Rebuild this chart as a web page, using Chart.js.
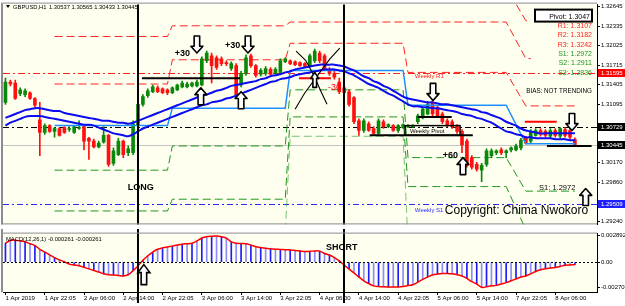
<!DOCTYPE html>
<html>
<head>
<meta charset="utf-8">
<script src="https://cdn.jsdelivr.net/npm/chart.js@4.4.1/dist/chart.umd.min.js"></script>
<style>
  html, body { margin: 0; padding: 0; background: #fff; }
  #wrap { position: relative; width: 625px; height: 306px; overflow: hidden; }
  #main { position: absolute; left: 0; top: 0; }
  #macd { position: absolute; left: 0; top: 229px; }
</style>
</head>
<body>
<div id="wrap">
  <canvas id="main" width="625" height="229"></canvas>
  <canvas id="macd" width="625" height="77"></canvas>
</div>
<script>
// ---- data ----
const timeTicks = ['1 Apr 2019', '1 Apr 22:05', '2 Apr 06:00', '2 Apr 14:00', '2 Apr 22:05', '3 Apr 06:00',
  '3 Apr 14:00', '3 Apr 22:05', '4 Apr 06:00', '4 Apr 14:00', '4 Apr 22:05', '5 Apr 06:00', '5 Apr 14:00',
  '7 Apr 22:05', '8 Apr 06:00'];
const barsPerTick = 8;
const slots = 121; // bars + empty chart shift on the right

const priceTicks = [1.32645, 1.32335, 1.32025, 1.31715, 1.31405, 1.31095, 1.30170, 1.29860, 1.29240];
const priceMin = 1.29193, priceMax = 1.32675;
const macdTicks = [0.002892, 0, -0.002702];
const macdMin = -0.003214, macdMax = 0.003092;

const opens = [
  1.31126, 1.31448, 1.31433, 1.31264, 1.31249, 1.31279, 1.31187, 1.30850, 1.30650, 1.30758,
  1.30666, 1.30712, 1.30727, 1.30696, 1.30650, 1.30712, 1.30742, 1.30558, 1.30512, 1.30420,
  1.30497, 1.30604, 1.30159, 1.30297, 1.30512, 1.30328, 1.30328, 1.30758, 1.31095, 1.31233,
  1.31295, 1.31356, 1.31341, 1.31325, 1.31279, 1.31325, 1.31371, 1.31371, 1.31387, 1.31387,
  1.31402, 1.31786, 1.31862, 1.31832, 1.31816, 1.31755, 1.31663, 1.31709, 1.31402, 1.31586,
  1.31862, 1.31709, 1.31571, 1.31586, 1.31648, 1.31586, 1.31601, 1.31770, 1.31786, 1.31770,
  1.31755, 1.31740, 1.31709, 1.31786, 1.31908, 1.31862, 1.31648, 1.31586, 1.31448, 1.31356,
  1.31295, 1.31203, 1.30834, 1.30681, 1.30788, 1.30712, 1.30635, 1.30819, 1.30742, 1.30758,
  1.30681, 1.30727, 1.30742, 1.30742, 1.30819, 1.30896, 1.30942, 1.31126, 1.31049, 1.30942,
  1.30834, 1.30819, 1.30742, 1.30666, 1.30512, 1.30251, 1.30144, 1.30052, 1.30144, 1.30282,
  1.30328, 1.30374, 1.30328, 1.30374, 1.30374, 1.30405, 1.30558, 1.30512, 1.30604, 1.30681,
  1.30666, 1.30589, 1.30681, 1.30589, 1.30696, 1.30681, 1.30537
];
const highs = [
  1.31509, 1.31479, 1.31479, 1.31356, 1.31341, 1.31295, 1.31203, 1.31126, 1.30788, 1.30773,
  1.30727, 1.30727, 1.30742, 1.30742, 1.30758, 1.30834, 1.30758, 1.30573, 1.30543, 1.30512,
  1.30742, 1.30620, 1.30405, 1.30558, 1.30527, 1.30435, 1.30834, 1.31295, 1.31249, 1.31341,
  1.31402, 1.31387, 1.31356, 1.31341, 1.31371, 1.31417, 1.31463, 1.31448, 1.31448, 1.31479,
  1.31847, 1.31939, 1.31908, 1.31862, 1.31847, 1.31786, 1.31770, 1.31740, 1.31617, 1.31878,
  1.31893, 1.31724, 1.31663, 1.31694, 1.31678, 1.31678, 1.31816, 1.31832, 1.31801, 1.31786,
  1.31770, 1.31755, 1.31893, 1.31970, 1.31939, 1.31893, 1.31678, 1.31617, 1.31509, 1.31387,
  1.31325, 1.31218, 1.30865, 1.30865, 1.30819, 1.30742, 1.30865, 1.30850, 1.30788, 1.30773,
  1.30773, 1.30788, 1.30773, 1.30773, 1.30942, 1.31049, 1.31141, 1.31172, 1.31080, 1.30972,
  1.30865, 1.30850, 1.30773, 1.30696, 1.30543, 1.30282, 1.30175, 1.30159, 1.30389, 1.30389,
  1.30374, 1.30405, 1.30374, 1.30420, 1.30466, 1.30558, 1.30589, 1.30696, 1.30712, 1.30712,
  1.30696, 1.30712, 1.30712, 1.30727, 1.30727, 1.30712, 1.30565
];
const lows = [
  1.31095, 1.31387, 1.31172, 1.31233, 1.31218, 1.31172, 1.31049, 1.30282, 1.30620, 1.30650,
  1.30573, 1.30589, 1.30635, 1.30666, 1.30635, 1.30696, 1.30374, 1.30221, 1.30405, 1.30405,
  1.30481, 1.30113, 1.30129, 1.30282, 1.30251, 1.30282, 1.30297, 1.30742, 1.31064, 1.31203,
  1.31279, 1.31279, 1.31264, 1.31249, 1.31264, 1.31310, 1.31356, 1.31356, 1.31371, 1.31371,
  1.31387, 1.31755, 1.31433, 1.31648, 1.31709, 1.31709, 1.31632, 1.31203, 1.31371, 1.31555,
  1.31678, 1.31525, 1.31540, 1.31555, 1.31555, 1.31571, 1.31586, 1.31755, 1.31724, 1.31709,
  1.31694, 1.31678, 1.31678, 1.31755, 1.31755, 1.31632, 1.31555, 1.31494, 1.31264, 1.31249,
  1.31064, 1.30788, 1.30604, 1.30650, 1.30666, 1.30604, 1.30620, 1.30712, 1.30727, 1.30666,
  1.30650, 1.30712, 1.30727, 1.30727, 1.30788, 1.30865, 1.30926, 1.30911, 1.30896, 1.30788,
  1.30742, 1.30712, 1.30635, 1.30328, 1.30098, 1.30067, 1.30037, 1.29868, 1.30113, 1.30251,
  1.30297, 1.30297, 1.30251, 1.30343, 1.30359, 1.30374, 1.30466, 1.30481, 1.30589, 1.30589,
  1.30573, 1.30558, 1.30573, 1.30558, 1.30573, 1.30543, 1.30433
];
const closes = [
  1.31448, 1.31417, 1.31187, 1.31325, 1.31310, 1.31187, 1.31080, 1.30650, 1.30758, 1.30666,
  1.30712, 1.30604, 1.30650, 1.30712, 1.30742, 1.30727, 1.30512, 1.30512, 1.30420, 1.30481,
  1.30604, 1.30144, 1.30359, 1.30512, 1.30297, 1.30389, 1.30788, 1.31095, 1.31218, 1.31310,
  1.31371, 1.31295, 1.31279, 1.31279, 1.31356, 1.31402, 1.31433, 1.31417, 1.31433, 1.31448,
  1.31816, 1.31908, 1.31709, 1.31678, 1.31740, 1.31740, 1.31740, 1.31249, 1.31586, 1.31832,
  1.31709, 1.31555, 1.31632, 1.31663, 1.31571, 1.31648, 1.31786, 1.31816, 1.31740, 1.31724,
  1.31709, 1.31694, 1.31862, 1.31939, 1.31786, 1.31663, 1.31586, 1.31525, 1.31295, 1.31279,
  1.31095, 1.30819, 1.30681, 1.30834, 1.30681, 1.30635, 1.30834, 1.30742, 1.30773, 1.30681,
  1.30758, 1.30773, 1.30758, 1.30758, 1.30911, 1.31018, 1.31095, 1.30942, 1.30911, 1.30819,
  1.30758, 1.30742, 1.30666, 1.30451, 1.30129, 1.30098, 1.30067, 1.30129, 1.30359, 1.30359,
  1.30359, 1.30328, 1.30359, 1.30405, 1.30435, 1.30527, 1.30481, 1.30666, 1.30681, 1.30620,
  1.30604, 1.30681, 1.30604, 1.30712, 1.30604, 1.30573, 1.30445
];

// the two thick blue averages
const maUpper = [
  1.30880, 1.30911, 1.30942, 1.30972, 1.31003, 1.31018, 1.31034, 1.31034, 1.31018, 1.31003,
  1.30988, 1.30988, 1.30957, 1.30942, 1.30926, 1.30911, 1.30896, 1.30880, 1.30865, 1.30850,
  1.30834, 1.30834, 1.30819, 1.30804, 1.30804, 1.30788, 1.30804, 1.30834, 1.30865, 1.30896,
  1.30926, 1.30957, 1.30988, 1.31018, 1.31049, 1.31080, 1.31110, 1.31141, 1.31172, 1.31203,
  1.31233, 1.31249, 1.31279, 1.31310, 1.31325, 1.31356, 1.31387, 1.31402, 1.31417, 1.31433,
  1.31448, 1.31463, 1.31494, 1.31509, 1.31540, 1.31555, 1.31571, 1.31601, 1.31617, 1.31648,
  1.31663, 1.31678, 1.31694, 1.31709, 1.31724, 1.31724, 1.31724, 1.31724, 1.31709, 1.31694,
  1.31663, 1.31632, 1.31586, 1.31540, 1.31509, 1.31463, 1.31433, 1.31387, 1.31356, 1.31310,
  1.31264, 1.31218, 1.31187, 1.31172, 1.31157, 1.31141, 1.31126, 1.31126, 1.31110, 1.31095,
  1.31095, 1.31080, 1.31064, 1.31049, 1.31034, 1.31018, 1.31003, 1.30972, 1.30957, 1.30926,
  1.30896, 1.30865, 1.30819, 1.30788, 1.30758, 1.30712, 1.30681, 1.30666, 1.30650, 1.30635,
  1.30635, 1.30635, 1.30635, 1.30635, 1.30635, 1.30635, 1.30635
];
const maLower = [
  1.30758, 1.30804, 1.30834, 1.30865, 1.30896, 1.30911, 1.30911, 1.30911, 1.30896, 1.30880,
  1.30865, 1.30850, 1.30834, 1.30819, 1.30804, 1.30788, 1.30773, 1.30773, 1.30758, 1.30727,
  1.30696, 1.30666, 1.30635, 1.30620, 1.30604, 1.30589, 1.30620, 1.30666, 1.30712, 1.30742,
  1.30773, 1.30804, 1.30834, 1.30865, 1.30896, 1.30926, 1.30957, 1.30988, 1.31018, 1.31049,
  1.31080, 1.31095, 1.31126, 1.31141, 1.31157, 1.31187, 1.31203, 1.31233, 1.31264, 1.31295,
  1.31325, 1.31356, 1.31387, 1.31417, 1.31448, 1.31463, 1.31494, 1.31509, 1.31525, 1.31555,
  1.31571, 1.31586, 1.31601, 1.31617, 1.31632, 1.31648, 1.31648, 1.31648, 1.31632, 1.31617,
  1.31586, 1.31555, 1.31509, 1.31463, 1.31417, 1.31387, 1.31356, 1.31310, 1.31264, 1.31233,
  1.31187, 1.31141, 1.31095, 1.31064, 1.31064, 1.31049, 1.31049, 1.31034, 1.31034, 1.31018,
  1.31003, 1.30988, 1.30972, 1.30942, 1.30926, 1.30911, 1.30880, 1.30865, 1.30834, 1.30804,
  1.30758, 1.30712, 1.30666, 1.30650, 1.30620, 1.30604, 1.30573, 1.30573, 1.30558, 1.30558,
  1.30558, 1.30558, 1.30543, 1.30543, 1.30543, 1.30527, 1.30527
];

const macdValues = [
  0.00207, 0.00235, 0.00238, 0.00230, 0.00222, 0.00200, 0.00180, 0.00140, 0.00110, 0.00080,
  0.00050, 0.00025, 0.00005, -0.00020, -0.00030, -0.00037, -0.00055, -0.00072, -0.00090, -0.00105,
  -0.00125, -0.00135, -0.00138, -0.00142, -0.00148, -0.00135, -0.00090, -0.00040, 0.00021, 0.00070,
  0.00110, 0.00140, 0.00155, 0.00165, 0.00174, 0.00185, 0.00195, 0.00200, 0.00205, 0.00230,
  0.00262, 0.00276, 0.00280, 0.00282, 0.00275, 0.00260, 0.00220, 0.00205, 0.00203, 0.00200,
  0.00185, 0.00168, 0.00158, 0.00150, 0.00145, 0.00141, 0.00138, 0.00135, 0.00133, 0.00128,
  0.00122, 0.00116, 0.00118, 0.00122, 0.00120, 0.00095, 0.00078, 0.00050, 0.00015, -0.00030,
  -0.00075, -0.00115, -0.00160, -0.00200, -0.00230, -0.00255, -0.00262, -0.00266, -0.00268, -0.00268,
  -0.00267, -0.00262, -0.00252, -0.00243, -0.00215, -0.00185, -0.00160, -0.00138, -0.00128, -0.00122,
  -0.00121, -0.00125, -0.00135, -0.00148, -0.00175, -0.00210, -0.00235, -0.00270, -0.00265, -0.00255,
  -0.00250, -0.00235, -0.00220, -0.00200, -0.00180, -0.00160, -0.00148, -0.00125, -0.00100, -0.00082,
  -0.00070, -0.00063, -0.00057, -0.00045, -0.00032, -0.00029, -0.000261
];

// daily pivot levels, one value per trading day
const dayFirst = [10, 34, 58, 82, 106];
const dayLast = [33, 57, 81, 102, 116];
const pivP = [1.30758, 1.31034, 1.31632, 1.31080, 1.3047];
const pivR1 = [1.31417, 1.31801, 1.32062, 1.31601, 1.3107];
const pivR2 = [1.32170, 1.32339, 1.32399, 1.32399, 1.3182];
const pivR3 = [1.32782, 1.33167, 1.32800, 1.32950, 1.3242];
const pivS1 = [1.30052, 1.30435, 1.31325, 1.30251, 1.2972];
const pivS2 = [1.29406, 1.29592, 1.30896, 1.29792, 1.2911];
const pivS3 = [1.28687, 1.29069, 1.30589, 1.28900, 1.2836];
const shortLevelEnd = 107; // R2/R3 of the last day stop early

// weekly levels: R1, pivot, S1
const weeklyLevels = [1.31595, 1.30729, 1.29509];

// hand drawn marks, in bar index / price
const trendLines = [[27.8, 1.31509, 47.8, 1.31509], [84.0, 1.30896, 90.9, 1.30896],
  [74.2, 1.30604, 95.2, 1.30604], [110.3, 1.30435, 119.4, 1.30435]];
const pivotBox = [81.4, 1.30758, 92.6, 1.30604];
const redMarks = [[105.8, 1.30819, 112.3, 1.30819], [59.8, 1.31509, 66.3, 1.31509], [63.0, 1.31601, 63.0, 1.31417]];
const crossCurves = [
  [[59.2, 1.31939], [61.2, 1.31786], [62.8, 1.31555], [64.3, 1.31295], [65.5, 1.31095]],
  [[68.1, 1.31985], [66.1, 1.31816], [63.6, 1.31555], [61.0, 1.31279], [59.0, 1.31018]]
];
const upArrows = [[39.8, 1.31356], [48.0, 1.31295], [93.2, 1.30251], [118.2, 1.29761]];
const smallUpArrows = [[63.0, 1.31601]];
const downArrows = [[39.0, 1.31908], [49.4, 1.31908], [87.1, 1.31157], [115.4, 1.30681]];
const macdUpArrows = [[28.2, -0.00026]];
const verticalBars = [27, 69];
const boldNotes = [['+30', 34.5, 1.31862], ['+30', 44.7, 1.31985], ['+60', 89.1, 1.30251], ['LONG', 24.9, 1.29745]];
const redNotes = [['-30', 65.7, 1.31325]];
const weeklyNotes = [['Weekly R1', 83.4, 1.31509], ['Weekly Pivot', 82.4, 1.30635], ['Weekly S1', 83.4, 1.29393]];
const levelNote = ['S1: 1.2972', 108.7, 1.29745];
const copyrightNote = ['Copyright: Chima Nwokoro', 89.5, 1.29362];
const macdNotes = [['SHORT', 65.3, 0.00136]];
const axisTags = [1.31595, 1.30729, 1.30445, 1.29509];

// ---- helpers ----
const FONT = "'Liberation Sans', Arial, sans-serif";
Chart.defaults.font.family = FONT;
Chart.defaults.font.size = 6;
Chart.defaults.color = '#000';

const RED = '#ff2020', GREEN = '#1e961e';
const slotLabels = Array.from({ length: slots }, (_, i) =>
  i % barsPerTick === 0 ? (timeTicks[i / barsPerTick] || '') : '');
const last = closes.length - 1;

function daily(levels, lastBar) {
  const out = new Array(opens.length).fill(null);
  dayFirst.forEach((s, d) => {
    const e = (d === dayFirst.length - 1 && lastBar != null) ? lastBar : dayLast[d];
    for (let i = s; i <= e; i++) out[i] = levels[d];
  });
  return out;
}

function lvl(data, color, dash, width, order) {
  return { type: 'line', data, borderColor: color, borderWidth: width, borderDash: dash,
    pointRadius: 0, tension: 0, spanGaps: true, order };
}

function seg(ctx, x0, y0, x1, y1) {
  ctx.beginPath(); ctx.moveTo(x0, y0); ctx.lineTo(x1, y1); ctx.stroke();
}

function blockArrow(ctx, cx, tip, dir, h, w) {
  // dir 1 = pointing up (tip on top), -1 = pointing down
  const s = w * 0.23, neck = tip + dir * h * 0.4, base = tip + dir * h;
  ctx.beginPath();
  ctx.moveTo(cx, tip);
  ctx.lineTo(cx + w / 2, neck); ctx.lineTo(cx + s, neck); ctx.lineTo(cx + s, base);
  ctx.lineTo(cx - s, base); ctx.lineTo(cx - s, neck); ctx.lineTo(cx - w / 2, neck);
  ctx.closePath();
  ctx.fillStyle = '#fff'; ctx.fill();
  ctx.lineWidth = 1.6; ctx.strokeStyle = '#000'; ctx.stroke();
}

function text(ctx, str, x, y, font, color, align) {
  ctx.font = font; ctx.fillStyle = color;
  ctx.textAlign = align || 'left'; ctx.textBaseline = 'alphabetic';
  ctx.fillText(str, x, y);
}

function clipArea(ctx, a) {
  ctx.beginPath(); ctx.rect(a.left, a.top, a.right - a.left, a.bottom - a.top); ctx.clip();
}

const plotBg = {
  id: 'plotBg',
  beforeDraw(chart) {
    const { ctx, chartArea: a } = chart;
    ctx.save();
    ctx.fillStyle = '#fffff0';
    ctx.fillRect(a.left, a.top, a.right - a.left, a.bottom - a.top);
    ctx.restore();
  }
};

const mainOverlay = {
  id: 'mainOverlay',
  beforeDatasetsDraw(chart) {
    const { ctx, chartArea: a, scales: { y } } = chart;
    const styles = [[RED, [7, 3, 2, 3]], ['#000', [6, 3, 2, 3]], ['#2a2aff', [6, 3, 2, 3]]];
    ctx.save();
    clipArea(ctx, a);
    ctx.lineWidth = 1;
    ctx.strokeStyle = '#c4c4c4'; ctx.setLineDash([]);
    const lp = Math.round(y.getPixelForValue(closes[last])) + 0.5;
    seg(ctx, a.left, lp, a.right, lp);
    weeklyLevels.forEach((v, k) => {
      const py = Math.round(y.getPixelForValue(v)) + 0.5;
      ctx.strokeStyle = styles[k][0]; ctx.setLineDash(styles[k][1]);
      seg(ctx, a.left, py, a.right, py);
    });
    ctx.restore();
  },
  afterDatasetsDraw(chart) {
    const { ctx, chartArea: a, scales: { x, y } } = chart;
    const X = i => x.getPixelForValue(i), Y = p => y.getPixelForValue(p);
    ctx.save();
    clipArea(ctx, a);
    ctx.setLineDash([]);
    ctx.lineCap = 'butt';

    ctx.strokeStyle = '#000'; ctx.lineWidth = 2;
    trendLines.forEach(([i0, p0, i1, p1]) => seg(ctx, X(i0), Y(p0), X(i1), Y(p1)));
    ctx.lineWidth = 1.5;
    ctx.strokeRect(X(pivotBox[0]), Y(pivotBox[1]), X(pivotBox[2]) - X(pivotBox[0]), Y(pivotBox[3]) - Y(pivotBox[1]));

    ctx.strokeStyle = '#ff0000'; ctx.lineWidth = 2;
    redMarks.forEach(([i0, p0, i1, p1]) => seg(ctx, X(i0), Y(p0), X(i1), Y(p1)));

    ctx.strokeStyle = '#000'; ctx.lineWidth = 1.1; ctx.lineJoin = 'round';
    crossCurves.forEach(pts => {
      ctx.beginPath();
      pts.forEach(([i, p], k) => k ? ctx.lineTo(X(i), Y(p)) : ctx.moveTo(X(i), Y(p)));
      ctx.stroke();
    });

    ctx.lineWidth = 2;
    verticalBars.forEach(i => seg(ctx, Math.round(X(i)), a.top - 2, Math.round(X(i)), a.bottom + 2));

    upArrows.forEach(([i, p]) => blockArrow(ctx, X(i), Y(p), 1, 17, 12));
    smallUpArrows.forEach(([i, p]) => blockArrow(ctx, X(i), Y(p), 1, 15, 8));
    downArrows.forEach(([i, p]) => blockArrow(ctx, X(i), Y(p), -1, 17, 12));

    boldNotes.forEach(([t, i, p]) => text(ctx, t, X(i), Y(p), `bold 9px ${FONT}`, '#000'));
    redNotes.forEach(([t, i, p]) => text(ctx, t, X(i), Y(p), `9px ${FONT}`, '#ff0000'));
    const wc = [RED, '#000', '#2a2aff'];
    weeklyNotes.forEach(([t, i, p], k) => text(ctx, t, X(i), Y(p), `6px ${FONT}`, wc[k]));
    text(ctx, levelNote[0], X(levelNote[1]), Y(levelNote[2]), `7.5px ${FONT}`, '#000');
    text(ctx, copyrightNote[0], X(copyrightNote[1]), Y(copyrightNote[2]), `12px ${FONT}`, '#000');
    ctx.restore();

    // pivot labels block, top right
    ctx.save();
    const r = a.right;
    ctx.fillStyle = '#fff'; ctx.fillRect(r - 62, a.top + 5, 57, 12);
    ctx.strokeStyle = '#000'; ctx.lineWidth = 2; ctx.strokeRect(r - 62, a.top + 5, 57, 12);
    text(ctx, `Pivot: ${pivP[4].toFixed(4)}`, r - 7, a.top + 14, `7px ${FONT}`, '#000', 'right');
    const rows = [['R1', pivR1], ['R2', pivR2], ['R3', pivR3], ['S1', pivS1], ['S2', pivS2], ['S3', pivS3]];
    rows.forEach(([n, arr], k) => text(ctx, `${n}: ${arr[4].toFixed(4)}`, r - 5, a.top + 23.5 + k * 9.3,
      `7px ${FONT}`, n[0] === 'R' ? RED : GREEN, 'right'));
    text(ctx, 'BIAS: NOT TRENDING', r - 5, a.top + 88, `6.3px ${FONT}`, '#000', 'right');

    // title with the last bar's OHLC
    ctx.fillStyle = '#000';
    ctx.beginPath(); ctx.moveTo(6, 5); ctx.lineTo(10, 5); ctx.lineTo(8, 8); ctx.closePath(); ctx.fill();
    text(ctx, 'GBPUSD,H1', 13, 9, `5.8px ${FONT}`, '#000');
    const ohlc = [opens[last], highs[last], lows[last], closes[last]].map(v => v.toFixed(5)).join(' ');
    text(ctx, ohlc, 49, 9, `5.8px ${FONT}`, '#000');
    ctx.restore();
  },
  afterDraw(chart) {
    const { ctx, chartArea: a, scales: { y } } = chart;
    const colors = ['#ff0000', '#000', '#000', '#2020ff'];
    ctx.save();
    axisTags.forEach((v, k) => {
      const py = Math.round(y.getPixelForValue(v));
      ctx.fillStyle = colors[k];
      ctx.fillRect(a.right + 1, py - 4, 27, 8);
      text(ctx, v.toFixed(5), a.right + 4, py + 2.2, `6px ${FONT}`, '#fff');
    });
    // frame
    ctx.fillStyle = '#8c8c8c';
    ctx.fillRect(a.left - 2, a.top - 1, 2, a.bottom - a.top + 1);
    ctx.fillRect(a.left - 2, a.top - 2, a.right - a.left + 2, 1);
    ctx.fillRect(a.left - 2, a.bottom - 1, a.right - a.left + 2, 1);
    ctx.restore();
  }
};

const macdOverlay = {
  id: 'macdOverlay',
  afterDatasetsDraw(chart) {
    const { ctx, chartArea: a, scales: { x, y } } = chart;
    const X = i => x.getPixelForValue(i), Y = v => y.getPixelForValue(v);
    ctx.save();
    ctx.strokeStyle = '#000'; ctx.lineWidth = 1; ctx.setLineDash([2, 2]);
    const zy = Math.round(Y(0)) + 0.5;
    seg(ctx, a.left, zy, a.right, zy);
    ctx.setLineDash([]);
    ctx.lineWidth = 2;
    verticalBars.forEach(i => seg(ctx, Math.round(X(i)), 0, Math.round(X(i)), chart.height - 3));
    macdUpArrows.forEach(([i, v]) => blockArrow(ctx, X(i), Y(v), 1, 20, 12));
    macdNotes.forEach(([t, i, v]) => text(ctx, t, X(i), Y(v), `bold 9px ${FONT}`, '#000'));
    const lv = macdValues[last].toFixed(6);
    text(ctx, `MACD(12,26,1) ${lv} ${lv}`, 6, a.top + 7, `5.8px ${FONT}`, '#000');
    ctx.fillStyle = '#8c8c8c';
    ctx.fillRect(a.left - 2, 0, 2, a.bottom);
    ctx.fillRect(a.left - 2, a.top - 1, a.right - a.left + 2, 1);
    ctx.restore();
  }
};

// ---- charts ----
const bull = closes.map((c, i) => c >= opens[i]);
const candleColor = bull.map(b => b ? '#0a880a' : '#ff1010');
const histColor = macdValues.map((_, i) => i % 2 ? '#8c8cff' : '#1c1cff');
const yAxisBase = {
  position: 'right',
  afterFit: s => { s.width = 28; },
  grid: { drawOnChartArea: false, tickLength: 3, color: '#000' },
  border: { color: '#000' },
  ticks: { padding: 1, color: '#000', font: { size: 6 } }
};

new Chart(document.getElementById('main'), {
  type: 'bar',
  data: {
    labels: slotLabels,
    datasets: [
      { type: 'bar', data: opens.map((o, i) => [Math.min(o, closes[i]), Math.max(o, closes[i])]),
        backgroundColor: candleColor, barThickness: 3, grouped: false, minBarLength: 1, order: 3 },
      { type: 'bar', data: highs.map((h, i) => [lows[i], h]),
        backgroundColor: candleColor, barThickness: 1, grouped: false, order: 4 },
      { type: 'line', data: maUpper, borderColor: '#0b0bf0', borderWidth: 2, pointRadius: 0, tension: 0.3, order: 1 },
      { type: 'line', data: maLower, borderColor: '#0b0bf0', borderWidth: 2, pointRadius: 0, tension: 0.3, order: 1 },
      lvl(daily(pivP), '#1e8fff', [], 1.5, 2),
      lvl(daily(pivR1), RED, [8, 4], 1, 5),
      lvl(daily(pivR2, shortLevelEnd), RED, [8, 4], 1, 5),
      lvl(daily(pivR3, shortLevelEnd), RED, [8, 4], 1, 5),
      lvl(daily(pivS1), GREEN, [8, 4], 1, 5),
      lvl(daily(pivS2), GREEN, [8, 4], 1, 5),
      lvl(daily(pivS3), 'rgba(30,150,30,0.6)', [8, 4], 1, 5)
    ]
  },
  options: {
    responsive: false, animation: false, events: [],
    layout: { padding: { left: 3, top: 2, right: 0, bottom: 0 } },
    plugins: { legend: { display: false }, tooltip: { enabled: false } },
    scales: {
      x: { type: 'category', display: false, offset: true },
      y: { ...yAxisBase, min: priceMin, max: priceMax,
        afterBuildTicks: s => { s.ticks = priceTicks.map(v => ({ value: v })); },
        ticks: { ...yAxisBase.ticks, callback: v => v.toFixed(5) } }
    }
  },
  plugins: [plotBg, mainOverlay]
});

new Chart(document.getElementById('macd'), {
  type: 'bar',
  data: {
    labels: slotLabels,
    datasets: [
      { type: 'line', data: macdValues, borderColor: '#ff0000', borderWidth: 1.5, pointRadius: 0, tension: 0.4, order: 0 },
      { type: 'bar', data: macdValues, backgroundColor: histColor, barThickness: 1, order: 1 }
    ]
  },
  options: {
    responsive: false, animation: false, events: [],
    layout: { padding: { left: 3, top: 1, right: 0, bottom: 0 } },
    plugins: { legend: { display: false }, tooltip: { enabled: false } },
    scales: {
      x: { type: 'category', offset: true,
        afterFit: s => { s.height = 14; },
        grid: { drawOnChartArea: false, offset: false, tickLength: 3,
          color: c => (c.tick && c.tick.label) ? '#000' : 'rgba(0,0,0,0)' },
        border: { color: '#000' },
        ticks: { autoSkip: false, maxRotation: 0, align: 'start', padding: 0, color: '#000', font: { size: 6 } } },
      y: { ...yAxisBase, min: macdMin, max: macdMax,
        afterBuildTicks: s => { s.ticks = macdTicks.map(v => ({ value: v })); },
        ticks: { ...yAxisBase.ticks, callback: v => v === 0 ? '0.00' : v.toFixed(6) } }
    }
  },
  plugins: [plotBg, macdOverlay]
});
</script>
</body>
</html>
